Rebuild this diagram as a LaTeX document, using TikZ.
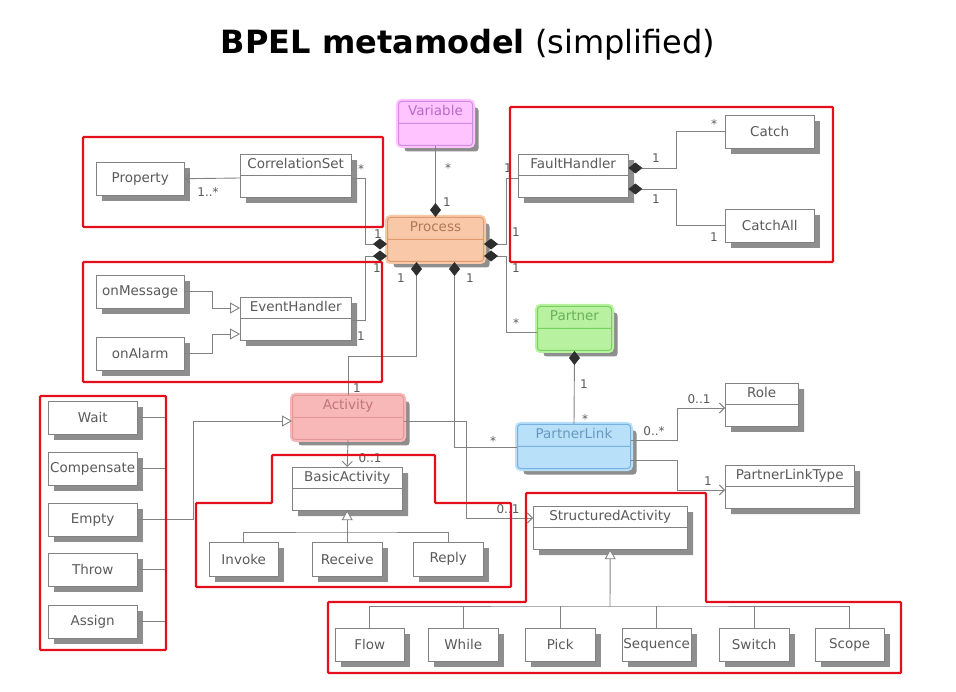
\documentclass[tikz,border=0pt]{standalone}
\usepackage{fontspec}
\setmainfont{DejaVu Sans}
\newfontfamily\titlefont{DejaVu Sans}
\usetikzlibrary{shapes.multipart,shadows,arrows.meta}
\definecolor{linegray}{HTML}{828282}
\definecolor{txtgray}{HTML}{5A5A5A}
\definecolor{shgray}{HTML}{8E8E8E}
\definecolor{diagray}{HTML}{2E2E2E}
\definecolor{boxred}{HTML}{E3101C}
\definecolor{varfill}{HTML}{FFC4FF}
\definecolor{varline}{HTML}{D08CE0}
\definecolor{vartext}{HTML}{B46CC8}
\definecolor{procfill}{HTML}{F9C8A8}
\definecolor{procline}{HTML}{E09A70}
\definecolor{proctext}{HTML}{B07858}
\definecolor{partfill}{HTML}{B8F2A0}
\definecolor{partline}{HTML}{78D060}
\definecolor{parttext}{HTML}{6CAE5C}
\definecolor{actfill}{HTML}{F9B8B8}
\definecolor{actline}{HTML}{E09898}
\definecolor{acttext}{HTML}{C07676}
\definecolor{linkfill}{HTML}{B8E0F9}
\definecolor{linkline}{HTML}{78B0E0}
\definecolor{linktext}{HTML}{6898C0}
\begin{document}
\begin{tikzpicture}[x=1pt,y=-1pt,
    leaf/.style={draw=linegray,fill=white,text=txtgray,font=\fontsize{13.5}{16}\selectfont,
      minimum height=33pt,inner xsep=1pt,anchor=north west,
      drop shadow={shadow xshift=6pt,shadow yshift=-6pt,fill=shgray,opacity=1}},
    cls/.style={leaf,rectangle split,rectangle split parts=2,inner ysep=2.5pt,minimum height=0pt,
      rectangle split empty part height=25pt,rectangle split empty part depth=0pt,
      execute at begin node=\strut},
    tinted/.style n args={3}{cls,rounded corners=3pt,fill=#1,draw=#2,text=#3,line width=1pt,
      preaction={draw=#1,line width=5pt}},
    mult/.style={text=txtgray,font=\fontsize{12}{14}\selectfont,inner sep=0pt},
    comp/.style={{Diamond[length=14pt,width=11pt,color=diagray]}-},
    gen/.style={-{Triangle[open,length=10pt,width=11pt,fill=white]}},
    nav/.style={-{Straight Barb[length=5pt,width=10pt]}},
    group/.style={draw=boxred,line width=2.2pt,rounded corners=1pt}]
  \useasboundingbox (0,0) rectangle (956,692);

  \node[font=\titlefont\fontsize{32}{38}\selectfont] (title) at (468,45)
    {\textbf{BPEL metamodel} (simplified)};

  % classes
  \node[tinted={varfill}{varline}{vartext},minimum width=74pt] (var) at (398,101) {Variable\nodepart{second}};
  \node[tinted={procfill}{procline}{proctext},minimum width=96pt,
    rectangle split empty part height=30pt] (process) at (387,217) {Process\nodepart{second}};
  \node[leaf,minimum width=88pt] (prop) at (96,162) {Property};
  \node[cls,minimum width=111pt] (corr) at (240,154) {CorrelationSet\nodepart{second}};
  \node[cls,minimum width=110pt] (fault) at (518,154) {FaultHandler\nodepart{second}};
  \node[leaf,minimum width=89pt] (catch) at (725,115) {Catch};
  \node[leaf,minimum width=89pt] (catchall) at (725,209) {CatchAll};
  \node[leaf,minimum width=88pt] (onmsg) at (96,275) {onMessage};
  \node[leaf,minimum width=88pt] (onalarm) at (96,337) {onAlarm};
  \node[cls,minimum width=111pt] (evh) at (240,297) {EventHandler\nodepart{second}};
  \node[tinted={partfill}{partline}{parttext},minimum width=74pt,
    rectangle split empty part height=28pt] (partner) at (537,306) {Partner\nodepart{second}};
  \node[tinted={linkfill}{linkline}{linktext},minimum width=113pt] (plink) at (517,424) {PartnerLink\nodepart{second}};
  \node[cls,minimum width=73pt] (role) at (725,383) {Role\nodepart{second}};
  \node[cls,minimum width=129pt] (plt) at (725,465) {PartnerLinkType\nodepart{second}};
  \node[tinted={actfill}{actline}{acttext},minimum width=111pt] (activity) at (292,395) {Activity\nodepart{second}};
  \node[cls,minimum width=110pt] (basic) at (292,467) {BasicActivity\nodepart{second}};
  \node[cls,minimum width=154pt] (struct) at (533,506) {StructuredActivity\nodepart{second}};

  \node[leaf,minimum width=89pt] (wait) at (48,401) {Wait};
  \node[leaf,minimum width=89pt] (compens) at (48,452) {Compensate};
  \node[leaf,minimum width=89pt] (empty) at (48,503) {Empty};
  \node[leaf,minimum width=89pt] (throw) at (48,553) {Throw};
  \node[leaf,minimum width=89pt] (assign) at (48,605) {Assign};

  \node[leaf,minimum width=69pt,minimum height=34pt] (invoke) at (209,542) {Invoke};
  \node[leaf,minimum width=70pt,minimum height=34pt] (receive) at (312,542) {Receive};
  \node[leaf,minimum width=70pt,minimum height=34pt] (reply) at (413,542) {Reply};

  \node[leaf,minimum width=69pt] (flow) at (335,628) {Flow};
  \node[leaf,minimum width=70pt] (while) at (428,628) {While};
  \node[leaf,minimum width=70pt] (pick) at (525,628) {Pick};
  \node[leaf,minimum width=69pt] (seq) at (622,628) {Sequence};
  \node[leaf,minimum width=70pt] (switch) at (719,628) {Switch};
  \node[leaf,minimum width=69pt] (scope) at (815,628) {Scope};

  \coordinate (bbus) at (347,532);
  \coordinate (sbus) at (610,606);

  % associations
  \begin{scope}[draw=linegray,line width=0.9pt]
    \draw[comp] (process.north) -- (var.south);
    \draw[comp] ([yshift=-27pt]process.north west) -- ++(-22,0) |- ([yshift=-24pt]corr.north east);
    \draw[comp] ([yshift=-39pt]process.north west) -- ++(-22,0) |- ([yshift=-23pt]evh.north east);
    \draw[comp] ([yshift=-27pt]process.north east) -- ++(22,0) |- ([yshift=-24pt]fault.north west);
    \draw[comp] ([yshift=-39pt]process.north east) -- ++(22,0) |- ([yshift=-26pt]partner.north west);
    \draw[comp] ([xshift=-19pt]process.south) -- ++(0,94) -| (activity.north);
    \draw[comp] ([xshift=19pt]process.south) |- ([yshift=-23pt]plink.north west);
    \draw[comp] ([yshift=-14pt]fault.north east) -- ++(48,0) |- (catch.west);
    \draw[comp] ([yshift=-35pt]fault.north east) -- ++(48,0) |- (catchall.west);
    \draw[comp] (partner.south) -- (plink.north);
    \draw[nav] ([yshift=-24pt]corr.north west) -- (prop.east);
    \draw[nav] ([yshift=-16pt]plink.north east) -- ++(46,0) |- ([yshift=-25pt]role.north west);
    \draw[nav] ([yshift=-36pt]plink.north east) -- ++(46,0) |- ([yshift=-25pt]plt.north west);
    \draw[nav] (activity.south) -- (basic.north);
    \draw[nav] ([yshift=-26pt]activity.north east) -- ++(62,0) |- ([yshift=-12pt]struct.north west);
    \draw[gen] (onmsg.east) -- ++(28,0) |- ([yshift=-11pt]evh.north west);
    \draw[gen] (onalarm.east) -- ++(28,0) |- ([yshift=-37pt]evh.north west);
    \draw[gen] (empty.east) -- ++(56,0) |- ([yshift=-26pt]activity.north west);
    \draw (wait.east) -- ++(28,0) |- (assign.east);
    \draw (compens.east) -- ++(28,0);
    \draw (throw.east) -- ++(28,0);
    \draw[gen] (receive.north) -- (basic.south);
    \draw (invoke.north) |- (bbus) -| (reply.north);
    \draw[gen] (sbus) -- (struct.south);
    \draw (flow.north) |- (sbus) -| (scope.north);
    \draw (while.north) -- (while.north |- sbus);
    \draw (pick.north) -- (pick.north |- sbus);
    \draw (seq.north) -- (seq.north |- sbus);
    \draw (switch.north) -- (switch.north |- sbus);
  \end{scope}

  % multiplicities
  \node[mult] (m1) at (448,168) {*};
  \node[mult] (m2) at (447,202) {1};
  \node[mult] (m3) at (361,169) {*};
  \node[mult] (m4) at (378,234) {1};
  \node[mult] (m5) at (208,192) {1..*};
  \node[mult] (m6) at (377,268) {1};
  \node[mult] (m7) at (361,336) {1};
  \node[mult] (m8) at (508,168) {1};
  \node[mult] (m9) at (516,232) {1};
  \node[mult] (m10) at (516,268) {1};
  \node[mult] (m11) at (516,323) {*};
  \node[mult] (m12) at (401,278) {1};
  \node[mult] (m13) at (470,278) {1};
  \node[mult] (m14) at (357,388) {1};
  \node[mult] (m15) at (493,441) {*};
  \node[mult] (m16) at (584,384) {1};
  \node[mult] (m17) at (585,419) {*};
  \node[mult] (m18) at (654,431) {0..*};
  \node[mult] (m19) at (699,399) {0..1};
  \node[mult] (m20) at (708,481) {1};
  \node[mult] (m21) at (656,158) {1};
  \node[mult] (m22) at (714,124) {*};
  \node[mult] (m23) at (656,199) {1};
  \node[mult] (m24) at (714,237) {1};
  \node[mult] (m25) at (370,458) {0..1};
  \node[mult] (m26) at (508,509) {0..1};

  % groups
  \draw[group] (83,137) rectangle (383,227);
  \draw[group] (83,262) rectangle (382,382);
  \draw[group] (510,107) rectangle (833,262);
  \draw[group] (40,396) rectangle (166,650);
  \draw[group] (196,587) -- (196,503) -- (272,503) -- (272,455) -- (435,455)
    -- (435,503) -- (511,503) -- (511,587) -- cycle;
  \draw[group] (328,673) -- (328,602) -- (526,602) -- (526,493) -- (706,493)
    -- (706,602) -- (901,602) -- (901,673) -- cycle;
\end{tikzpicture}
\end{document}
